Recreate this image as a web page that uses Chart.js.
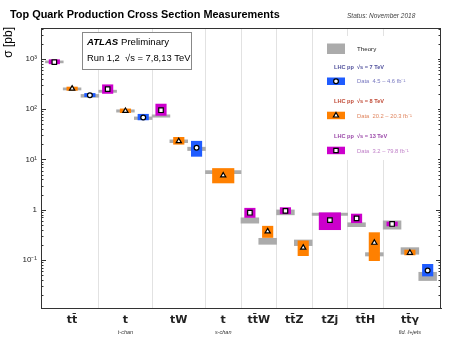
<!DOCTYPE html>
<html><head><meta charset="utf-8">
<script src="https://cdn.jsdelivr.net/npm/chart.js@4.4.0/dist/chart.umd.min.js"></script>
<style>html,body{margin:0;padding:0;background:#fff;}</style>
</head><body>
<canvas id="c" width="457" height="343"></canvas>
<script>
// ---------------- DATA ----------------
const categories = ['tt\u0304', 't', 'tW', 't', 'tt\u0304W', 'tt\u0304Z', 'tZj', 'tt\u0304H', 'tt\u0304\u03B3'];
const subLabels  = ['', 't-chan', '', 's-chan', '', '', '', '', 'fid. \u2113+jets'];

// 13 TeV (pb)
const meas13     = [860, 250, 95, null, 0.87, 0.95, 0.62, 0.67, 0.52];
const meas13Lo   = [795, 205, 75, null, 0.70, 0.83, 0.40, 0.55, 0.475];
const meas13Hi   = [960, 305, 126, null, 1.07, 1.10, 0.87, 0.82, 0.57];
const theory13Lo = [830, 215, 69, null, 0.54, 0.79, 0.77, 0.46, 0.41];
const theory13Hi = [910, 238, 77, null, 0.69, 0.99, 0.86, 0.55, 0.60];
// 8 TeV (pb)
const meas8      = [255, 92, 23, 4.8, 0.37, 0.176, null, 0.22, 0.139];
const meas8Lo    = [236, 85, 20, 3.4, 0.28, 0.122, null, 0.097, 0.126];
const meas8Hi    = [275, 101, 27.5, 6.6, 0.47, 0.24, null, 0.35, 0.158];
const theory8Lo  = [240, 87, 21.5, 5.2, 0.205, 0.193, null, 0.12, 0.13];
const theory8Hi  = [265, 97, 24.5, 6.0, 0.27, 0.25, null, 0.14, 0.176];
// 7 TeV (pb)
const meas7      = [188, 68, 17, null, null, null, null, null, 0.062];
const meas7Lo    = [176, 61, 11.5, null, null, null, null, null, 0.048];
const meas7Hi    = [205, 79, 23, null, null, null, null, null, 0.082];
const theory7Lo  = [172, 62, 15, null, null, null, null, null, 0.039];
const theory7Hi  = [196, 70, 17.5, null, null, null, null, null, 0.057];

const yTickValues = [0.1, 1, 10, 100, 1000];
const yTickLabels = ['10\u207B\u00B9', '1', '10\u00B9', '10\u00B2', '10\u00B3'];

// ---------------- LAYOUT (derived) ----------------
const COL13 = '#cc00cc', COL8 = '#ff8000', COL7 = '#1f5cff', COLTH = '#ababab';
const catStart = [], catCenter = [], single = [];
const pos13 = [], pos8 = [], pos7 = [];
let cursor = -1;
categories.forEach((c, i) => {
  const present = [meas13[i], meas8[i], meas7[i]].map(v => v !== null);
  const n = present.filter(Boolean).length;
  const width = n === 3 ? 6 : 4;
  const slots = n === 1 ? [2] : [1, 3, 5];
  catStart.push(cursor); catCenter.push(cursor + width / 2); single.push(n === 1);
  let k = 0;
  [pos13, pos8, pos7].forEach((arr, e) => {
    if (present[e]) { arr.push(cursor + slots[k]); k++; } else arr.push(null);
  });
  cursor += width;
});
const boundaries = catStart.slice(1);

function bars(pos, lo, hi, wide) {
  const out = [];
  pos.forEach((x, i) => { if (x !== null && lo[i] !== null && single[i] === wide) out.push({ x, y: [lo[i], hi[i]] }); });
  return out;
}
function pts(pos, val) {
  const out = [];
  pos.forEach((x, i) => { if (x !== null && val[i] !== null) out.push({ x, y: val[i] }); });
  return out;
}
const theoryAll = (wide) => [...bars(pos13, theory13Lo, theory13Hi, wide), ...bars(pos8, theory8Lo, theory8Hi, wide), ...bars(pos7, theory7Lo, theory7Hi, wide)];

const NB = 10.5, WB = 21.5, NT = 17.8, WT = 35.5;
function barDs(label, data, color, thick, order) {
  return { type: 'bar', label, data, backgroundColor: color, borderWidth: 0, barThickness: thick, grouped: false, order };
}
function markDs(label, data, style, r) {
  return { type: 'scatter', label, data, pointStyle: style, pointRadius: r, pointBorderWidth: 1.2,
    pointBackgroundColor: '#ffffff', pointBorderColor: '#000000', showLine: false, order: 0 };
}

const datasets = [
  markDs('13 TeV data', pts(pos13, meas13), 'rect', 3.2),
  markDs('8 TeV data', pts(pos8, meas8), 'triangle', 3.0),
  markDs('7 TeV data', pts(pos7, meas7), 'circle', 2.4),
  barDs('13 TeV unc.', bars(pos13, meas13Lo, meas13Hi, false), COL13, NB, 1),
  barDs('13 TeV unc. (wide)', bars(pos13, meas13Lo, meas13Hi, true), COL13, WB, 1),
  barDs('8 TeV unc.', bars(pos8, meas8Lo, meas8Hi, false), COL8, NB, 1),
  barDs('8 TeV unc. (wide)', bars(pos8, meas8Lo, meas8Hi, true), COL8, WB, 1),
  barDs('7 TeV unc.', bars(pos7, meas7Lo, meas7Hi, false), COL7, NB, 1),
  barDs('Theory', theoryAll(false), COLTH, NT, 2),
  barDs('Theory (wide)', theoryAll(true), COLTH, WT, 2),
];

// ---------------- DECORATION PLUGIN ----------------
function marker(ctx, style, x, y) {
  ctx.save();
  ctx.fillStyle = '#fff'; ctx.strokeStyle = '#000'; ctx.lineWidth = 1.2;
  ctx.beginPath();
  if (style === 'rect') { ctx.rect(x - 2.2, y - 2.2, 4.4, 4.4); }
  else if (style === 'circle') { ctx.arc(x, y, 2.4, 0, Math.PI * 2); }
  else { ctx.moveTo(x, y - 3); ctx.lineTo(x + 2.6, y + 1.5); ctx.lineTo(x - 2.6, y + 1.5); ctx.closePath(); }
  ctx.fill(); ctx.stroke();
  ctx.restore();
}
function txt(ctx, s, x, y, font, color, align) {
  ctx.font = font; ctx.fillStyle = color; ctx.textAlign = align || 'left'; ctx.textBaseline = 'middle';
  ctx.fillText(s, x, y);
}
const deco = {
  id: 'deco',
  afterDraw(chart) {
    const { ctx, chartArea: a, scales: { x, y } } = chart;
    ctx.save();
    // frame
    ctx.strokeStyle = '#333'; ctx.lineWidth = 1;
    ctx.beginPath();
    ctx.moveTo(a.left, a.top + 0.5); ctx.lineTo(a.right, a.top + 0.5);
    ctx.moveTo(a.right - 0.5, a.top); ctx.lineTo(a.right - 0.5, a.bottom);
    ctx.stroke();
    // inward log ticks
    ctx.beginPath();
    for (let d = -2; d <= 3; d++) for (let m = 1; m <= 9; m++) {
      const v = m * Math.pow(10, d);
      if (v < y.min || v > y.max) continue;
      const py = Math.round(y.getPixelForValue(v)) + 0.5;
      const len = m === 1 ? 5 : 2.5;
      ctx.moveTo(a.left, py); ctx.lineTo(a.left + len, py);
      ctx.moveTo(a.right, py); ctx.lineTo(a.right - len, py);
    }
    ctx.stroke();
    // title & status
    txt(ctx, 'Top Quark Production Cross Section Measurements', 10, 15, 'bold 10.9px "Liberation Sans"', '#000');
    txt(ctx, 'Status: November 2018', 347, 16.5, 'italic 6.5px "Liberation Sans"', '#444');
    // y axis title
    ctx.save();
    ctx.translate(9, 27); ctx.rotate(-Math.PI / 2);
    txt(ctx, '\u03C3 [pb]', 0, 0, '12px "Liberation Sans"', '#000', 'right');
    ctx.restore();
    // ATLAS box
    ctx.fillStyle = '#fff'; ctx.fillRect(82.5, 32.5, 109, 37);
    ctx.strokeStyle = '#888'; ctx.lineWidth = 1; ctx.strokeRect(82.5, 32.5, 109, 37);
    txt(ctx, 'ATLAS', 87, 42, 'italic bold 9.6px "Liberation Sans"', '#000');
    txt(ctx, 'Preliminary', 121, 42, '9.6px "Liberation Sans"', '#000');
    txt(ctx, 'Run 1,2  \u221As = 7,8,13 TeV', 87, 58.5, '9.4px "Liberation Sans"', '#000');
    // legend
    ctx.fillStyle = '#fff'; ctx.fillRect(318, 36, 120, 124);
    ctx.fillStyle = COLTH; ctx.fillRect(327, 43.5, 18, 10.5);
    txt(ctx, 'Theory', 357, 49.5, '6.2px "Liberation Sans"', '#222');
    const leg = [
      ['LHC pp  \u221As = 7 TeV', 'Data  4.5 \u2013 4.6 fb\u207B\u00B9', COL7, 'circle', 67.5, '#50509c', '#7878c0'],
      ['LHC pp  \u221As = 8 TeV', 'Data  20.2 \u2013 20.3 fb\u207B\u00B9', COL8, 'triangle', 101.7, '#c04a36', '#e08660'],
      ['LHC pp  \u221As = 13 TeV', 'Data  3.2 \u2013 79.8 fb\u207B\u00B9', COL13, 'rect', 136.7, '#9a46a8', '#c080c8'],
    ];
    leg.forEach(([h, d, col, st, yy, c1, c2]) => {
      txt(ctx, h, 334, yy, 'bold 5.6px "Liberation Sans"', c1);
      ctx.fillStyle = col; ctx.fillRect(327, yy + 10, 18, 7.5);
      marker(ctx, st, 336, yy + 13.8);
      txt(ctx, d, 357, yy + 14.2, '5.8px "Liberation Sans"', c2);
    });
    // sub labels
    subLabels.forEach((s, i) => {
      if (s) txt(ctx, s, x.getPixelForValue(catCenter[i]), 332, 'italic 5.5px "Liberation Sans"', '#333', 'center');
    });
    ctx.restore();
  }
};

// ---------------- CHART ----------------
new Chart(document.getElementById('c'), {
  type: 'scatter',
  data: { datasets },
  options: {
    responsive: false, devicePixelRatio: 1, animation: false,
    layout: { padding: { top: 28, right: 16, left: 0, bottom: 0 } },
    plugins: { legend: { display: false }, tooltip: { enabled: false } },
    scales: {
      x: {
        type: 'linear', min: -1.5, max: 43.5, offset: false,
        afterBuildTicks: s => {
          s.ticks = [...boundaries, ...catCenter].sort((p, q) => p - q).map(v => ({ value: v }));
        },
        afterFit: s => { s.height = 35; },
        ticks: {
          autoSkip: false, maxRotation: 0, minRotation: 0, padding: 6,
          font: { family: 'DejaVu Sans', weight: 'bold', size: 11 }, color: '#222',
          callback: v => { const i = catCenter.indexOf(v); return i >= 0 ? categories[i] : ''; }
        },
        grid: {
          offset: false, drawTicks: false,
          color: c => (c.tick && boundaries.includes(c.tick.value)) ? '#e2e2e2' : 'rgba(0,0,0,0)',
          lineWidth: 1
        },
        border: { display: true, color: '#333', width: 1 }
      },
      y: {
        type: 'logarithmic', min: 0.0111, max: 4100,
        afterBuildTicks: s => { s.ticks = yTickValues.map(v => ({ value: v, major: true })); },
        afterFit: s => { s.width = 41; },
        ticks: {
          padding: 4, color: '#222', font: { family: 'Liberation Sans', size: 8 },
          callback: v => { const i = yTickValues.indexOf(v); return i >= 0 ? yTickLabels[i] : ''; }
        },
        grid: { drawOnChartArea: false, drawTicks: false },
        border: { display: true, color: '#333', width: 1 }
      }
    }
  },
  plugins: [deco]
});
</script>
</body></html>
